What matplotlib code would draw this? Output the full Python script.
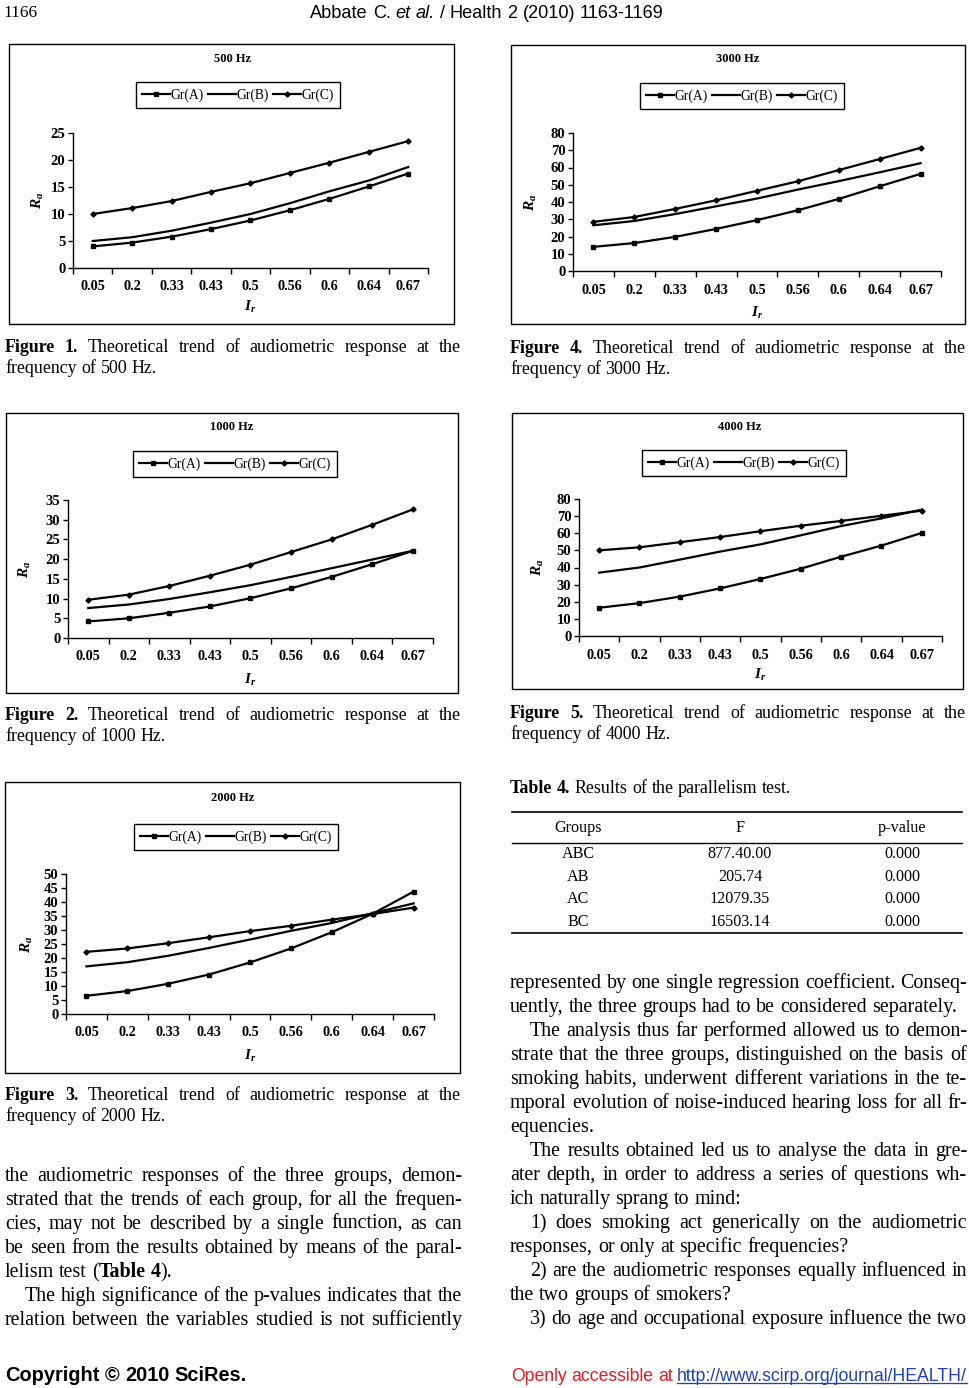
import re
import numpy as np
import matplotlib
matplotlib.use("Agg")
import matplotlib.pyplot as plt
from matplotlib import font_manager
from matplotlib.patches import Rectangle
from matplotlib.lines import Line2D

W, H = 970, 1388

# ---- data ----
ir_labels = ["0.05", "0.2", "0.33", "0.43", "0.5", "0.56", "0.6", "0.64", "0.67"]
group_names = ["Gr(A)", "Gr(B)", "Gr(C)"]

hz500_a = [4.0, 4.7, 5.8, 7.2, 8.8, 10.7, 12.8, 15.1, 17.5]
hz500_b = [5.0, 5.7, 6.9, 8.4, 10.0, 12.0, 14.2, 16.2, 18.7]
hz500_c = [10.0, 11.1, 12.4, 14.1, 15.7, 17.6, 19.5, 21.5, 23.5]

hz1000_a = [4.2, 5.0, 6.4, 8.0, 10.1, 12.6, 15.5, 18.7, 22.1]
hz1000_b = [7.6, 8.5, 9.9, 11.6, 13.4, 15.5, 17.7, 19.9, 22.1]
hz1000_c = [9.7, 11.0, 13.2, 15.8, 18.6, 21.8, 25.0, 28.7, 32.6]

hz2000_a = [6.5, 8.2, 10.8, 14.1, 18.4, 23.4, 29.2, 35.8, 43.7]
hz2000_b = [17.0, 18.5, 20.8, 23.6, 26.6, 29.7, 32.5, 36.0, 39.5]
hz2000_c = [22.2, 23.4, 25.3, 27.4, 29.6, 31.5, 33.7, 35.7, 38.0]

hz3000_a = [14.0, 16.2, 19.8, 24.4, 29.5, 35.2, 41.8, 49.1, 56.3]
hz3000_b = [26.5, 29.0, 33.0, 37.5, 42.0, 47.2, 52.1, 57.2, 62.5]
hz3000_c = [28.5, 31.3, 36.0, 41.0, 46.5, 52.0, 58.5, 64.9, 71.4]

hz4000_a = [16.5, 19.2, 23.0, 27.8, 33.3, 39.3, 46.3, 52.8, 60.2]
hz4000_b = [37.0, 40.0, 44.6, 49.3, 53.5, 58.8, 64.2, 68.7, 73.8]
hz4000_c = [50.0, 51.8, 54.8, 57.8, 61.2, 64.4, 67.2, 70.2, 73.2]

table_groups = ["ABC", "AB", "AC", "BC"]
table_f = ["877.40.00", "205.74", "12079.35", "16503.14"]
table_p = ["0.000", "0.000", "0.000", "0.000"]

# ---- fonts ----
names = {f.name for f in font_manager.fontManager.ttflist}
SERIF = "Liberation Serif"
NARROW = "Liberation Sans Narrow" if "Liberation Sans Narrow" in names else "Liberation Sans"

plt.rcParams["font.family"] = SERIF
plt.rcParams["mathtext.fontset"] = "custom"
plt.rcParams["mathtext.rm"] = "Liberation Serif:bold"
plt.rcParams["mathtext.it"] = "Liberation Serif:italic:bold"

fig = plt.figure(figsize=(W / 100, H / 100), dpi=100)
renderer = fig.canvas.get_renderer()


def fx(x):
    return x / W


def fy(y):
    return 1 - y / H


# ---- small charts ----
styles = [dict(marker="s", ms=2.6), dict(marker=None, ms=0), dict(marker="D", ms=2.6)]


def chart(box, axbox, ymax, ystep, title, title_xy, leg_xy, series, ylab_x, xlab_y):
    x0, y0, x1, y1 = box
    fig.patches.append(Rectangle((fx(x0), fy(y1)), (x1 - x0) / W, (y1 - y0) / H,
                                 transform=fig.transFigure, fill=False, lw=1.0, ec="black"))
    ax_l, ax_t, ax_r, ax_b = axbox
    ax = fig.add_axes([fx(ax_l), fy(ax_b), (ax_r - ax_l) / W, (ax_b - ax_t) / H])
    pos = np.arange(len(ir_labels))
    for vals, name, st in zip(series, group_names, styles):
        ax.plot(pos, vals, color="black", lw=1.6, label=name,
                marker=st["marker"], ms=st["ms"], mec="black", mfc="black")
    ax.set_xlim(-0.5, len(ir_labels) - 0.5)
    ax.set_ylim(0, ymax)
    ax.set_yticks(np.arange(0, ymax + 0.1, ystep))
    ax.set_xticks(pos)
    ax.set_xticklabels(ir_labels)
    ax.set_xticks(np.arange(-0.5, len(ir_labels)), minor=True)
    ax.tick_params(axis="x", which="major", length=0, pad=9, labelsize=10.3)
    ax.tick_params(axis="x", which="minor", length=4.5, width=1, direction="out")
    ax.tick_params(axis="y", length=3.5, width=1, direction="out", pad=2, labelsize=10.5)
    for lab in ax.get_xticklabels() + ax.get_yticklabels():
        lab.set_fontweight("bold")
    for s in ["top", "right"]:
        ax.spines[s].set_visible(False)
    for s in ["left", "bottom"]:
        ax.spines[s].set_linewidth(1.0)
    ax.patch.set_alpha(0)
    ax.set_ylabel("$R_a$", fontsize=11, va="center", ha="center")
    ax.yaxis.set_label_coords((ylab_x - ax_l) / (ax_r - ax_l), 0.5)
    ax.set_xlabel("$I_r$", fontsize=11, va="center", ha="center")
    ax.xaxis.set_label_coords(0.5, -(xlab_y - ax_b) / (ax_b - ax_t))
    fig.text(fx(title_xy[0]), fy(title_xy[1]), title, ha="center", va="center",
             fontsize=9, fontweight="bold")
    leg = ax.legend(loc="center", bbox_to_anchor=(fx(leg_xy[0]), fy(leg_xy[1])),
                    bbox_transform=fig.transFigure, ncol=3, frameon=True, fancybox=False,
                    edgecolor="black", framealpha=1, handlelength=2.0, handletextpad=0.05,
                    columnspacing=0.35, borderpad=0.45, borderaxespad=0,
                    prop={"size": 9.8})
    leg.get_frame().set_linewidth(1.0)
    return ax


chart((9, 44, 454, 324), (73, 133, 428, 268), 25, 5, "500 Hz", (233, 59), (238, 95),
      [hz500_a, hz500_b, hz500_c], 38, 307)
chart((6, 413, 458, 693), (68, 500, 433, 638), 35, 5, "1000 Hz", (232, 427), (235, 464),
      [hz1000_a, hz1000_b, hz1000_c], 25, 680)
chart((5, 782, 460, 1073), (66, 874, 434, 1014), 50, 5, "2000 Hz", (233, 798), (236, 837),
      [hz2000_a, hz2000_b, hz2000_c], 27, 1056)
chart((511, 45, 965, 324), (573, 133, 941, 271), 80, 10, "3000 Hz", (738, 59), (742, 96),
      [hz3000_a, hz3000_b, hz3000_c], 531, 313)
chart((512, 413, 963, 689), (579, 499, 942, 636), 80, 10, "4000 Hz", (740, 427), (744, 463),
      [hz4000_a, hz4000_b, hz4000_c], 538, 675)


# ---- text helpers ----
_space_cache = {}


def space_width(size, family, weight="normal"):
    key = (size, family, weight)
    if key not in _space_cache:
        t1 = fig.text(0, 0, "a a", fontsize=size, family=family, weight=weight)
        t2 = fig.text(0, 0, "aa", fontsize=size, family=family, weight=weight)
        _space_cache[key] = t1.get_window_extent(renderer).width - t2.get_window_extent(renderer).width
        t1.remove()
        t2.remove()
    return _space_cache[key]


def words(line, x0, y, size, family=SERIF, color="black", width=None, align="left",
          indent=0, weight="normal", fit=None):
    parts = []
    for w in line.split():
        segs = []
        for seg in re.split(r"(\*[^*]+\*|_[^_]+_)", w):
            if not seg:
                continue
            wt, st = weight, "normal"
            if seg.startswith("*"):
                seg, wt = seg[1:-1], "bold"
            elif seg.startswith("_"):
                seg, st = seg[1:-1], "italic"
            t = fig.text(0, 0, seg, fontsize=size, family=family, weight=wt, style=st,
                         color=color, va="baseline", ha="left")
            segs.append((t, t.get_window_extent(renderer).width))
        parts.append(segs)
    widths = [sum(s[1] for s in p) for p in parts]
    gap = space_width(size, family, weight)
    natural = sum(widths) + gap * (len(parts) - 1)
    if fit is not None:
        for p in parts:
            for t, _ in p:
                t.remove()
        return words(line, x0, y, size * fit / natural, family, color, width, align,
                     indent, weight)
    x = x0 + indent
    if align == "justify" and len(parts) > 1:
        gap = max(1.5, (x0 + width - x - sum(widths)) / (len(parts) - 1))
    elif align == "center":
        x = x0 - natural / 2
    elif align == "right":
        x = x0 - natural
    start = x
    for p, wd in zip(parts, widths):
        xx = x
        for t, sw in p:
            t.set_position((fx(xx), fy(y)))
            xx += sw
        x += wd + gap
    return start, x - gap, size


def paragraph(lines, x0, width, y0, step, size):
    # lines: (text, justified, indented)
    for i, (txt, just, ind) in enumerate(lines):
        words(txt, x0, y0 + i * step, size, width=width,
              align="justify" if just else "left", indent=20 if ind else 0)


# ---- captions ----
CAP = 12.9
for (x0, y1, num, hz) in [(5, 352, 1, 500), (5, 720, 2, 1000), (5, 1100, 3, 2000),
                          (510, 353, 4, 3000), (510, 718, 5, 4000)]:
    words("*Figure* *%d.* Theoretical trend of audiometric response at the" % num,
          x0, y1, CAP, width=456, align="justify")
    words("frequency of %d Hz." % hz, x0, y1 + 21, CAP)

# ---- table ----
words("*Table* *4.* Results of the parallelism test.", 510, 793, CAP)
for yy, lw in [(812, 1.2), (843, 1.0), (933, 1.2)]:
    fig.add_artist(Line2D([fx(512), fx(962)], [fy(yy), fy(yy)], color="black", lw=lw))
col_x = [578, 740, 902]
for cx, head in zip(col_x, ["Groups", "F", "p-value"]):
    fig.text(fx(cx), fy(828), head, ha="center", va="center", fontsize=11.6)
for i in range(len(table_groups)):
    ry = 854 + i * 22.7
    for cx, val in zip(col_x, [table_groups[i], table_f[i], table_p[i]]):
        fig.text(fx(cx), fy(ry), val, ha="center", va="center", fontsize=11.6)

# ---- body text ----
BODY = 14.4
left_lines = [
    ("the audiometric responses of the three groups, demon-", True, False),
    ("strated that the trends of each group, for all the frequen-", True, False),
    ("cies, may not be described by a single function, as can", True, False),
    ("be seen from the results obtained by means of the paral-", True, False),
    ("lelism test (*Table* *4*).", False, False),
    ("The high significance of the p-values indicates that the", True, True),
    ("relation between the variables studied is not sufficiently", True, False),
]
right_lines = [
    ("represented by one single regression coefficient. Conseq-", True, False),
    ("uently, the three groups had to be considered separately.", False, False),
    ("The analysis thus far performed allowed us to demon-", True, True),
    ("strate that the three groups, distinguished on the basis of", True, False),
    ("smoking habits, underwent different variations in the te-", True, False),
    ("mporal evolution of noise-induced hearing loss for all fr-", True, False),
    ("equencies.", False, False),
    ("The results obtained led us to analyse the data in gre-", True, True),
    ("ater depth, in order to address a series of questions wh-", True, False),
    ("ich naturally sprang to mind:", False, False),
    ("1) does smoking act generically on the audiometric", True, True),
    ("responses, or only at specific frequencies?", False, False),
    ("2) are the audiometric responses equally influenced in", True, True),
    ("the two groups of smokers?", False, False),
    ("3) do age and occupational exposure influence the two", True, True),
]
paragraph(left_lines, 5, 457, 1181, 24, BODY)
paragraph(right_lines, 510, 457, 988, 24, BODY)

# ---- header and footer ----
words("1166", 3, 17, 11, family=SERIF, fit=34)
words("Abbate C. _et_ _al._ / Health 2 (2010) 1163-1169", 487, 18, 12.5, family=NARROW,
      align="center", fit=355)
words("Copyright © 2010 SciRes.", 5, 1381, 12.5, family=NARROW, weight="bold", fit=243)
u0, u1, url_size = words("http://www.scirp.org/journal/HEALTH/", 967, 1381, 12.5,
                         family=NARROW, color="#1f3fbf", align="right", fit=291)
fig.add_artist(Line2D([fx(u0), fx(u1)], [fy(1383), fy(1383)], color="#1f3fbf", lw=0.9))
words("Openly accessible at", u0 - 4, 1381, url_size, family=NARROW,
      color="#e31b23", align="right")

fig.savefig("out.png", dpi=100)
